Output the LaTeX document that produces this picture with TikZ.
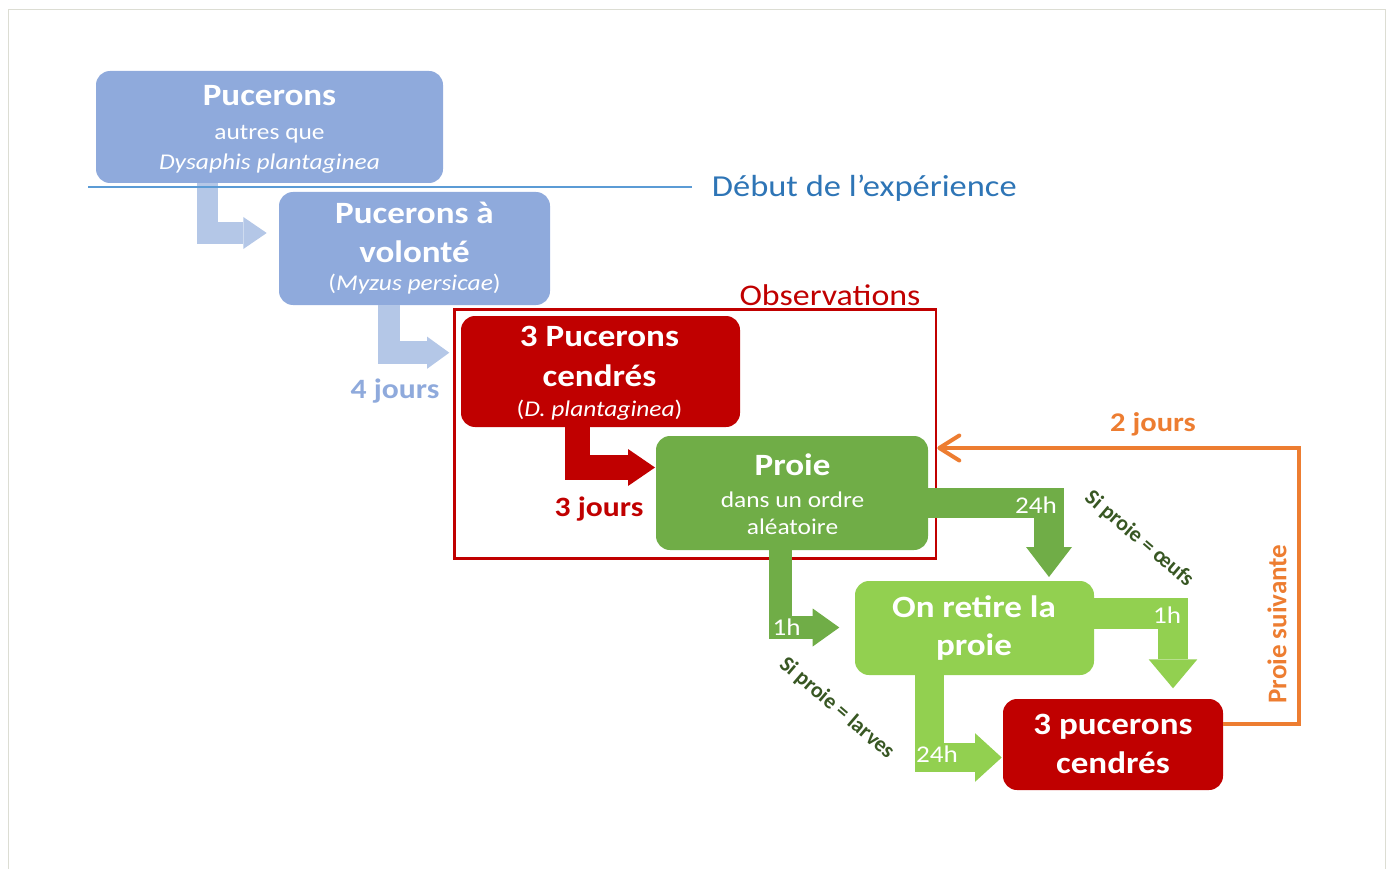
\documentclass[tikz,border=0pt]{standalone}
\usepackage{fontspec}
\setmainfont{Carlito}
\usepackage{xcolor}
\usepackage{tikz}
\usetikzlibrary{positioning, arrows.meta, calc}

\definecolor{boxblue}{HTML}{8FAADC}
\definecolor{arrowblue}{HTML}{B4C7E7}
\definecolor{lineblue}{HTML}{5B9BD5}
\definecolor{textblue}{HTML}{2E75B6}
\definecolor{obsred}{HTML}{C00000}
\definecolor{proiegreen}{HTML}{70AD47}
\definecolor{retiregreen}{HTML}{92D050}
\definecolor{labelgreen}{HTML}{385723}
\definecolor{suiteorange}{HTML}{ED7D31}
\definecolor{framegray}{HTML}{DCDDD3}

\begin{document}
\begin{tikzpicture}[
        x=1pt, y=-1pt,
        box/.style={rectangle, rounded corners=14pt, inner sep=0pt},
        txt/.style={inner sep=0pt, anchor=base, xscale=1.13, text=white},
        titre/.style={txt, font=\fontsize{31}{37}\selectfont\bfseries},
        sous/.style={txt, font=\fontsize{22.5}{27}\selectfont},
        duree/.style={txt, font=\fontsize{28}{34}\selectfont\bfseries},
        heure/.style={txt, font=\fontsize{24}{29}\selectfont},
        condition/.style={inner sep=0pt, text=labelgreen, font=\fontsize{22}{26}\selectfont\bfseries},
        fleche/.style={line join=miter, line cap=butt}
    ]
    \useasboundingbox (0,0) rectangle (1392,869);
    \draw[framegray] (8.5,869) |- (1385.5,9.5) -- (1385.5,869);

    % zone des observations
    \node[draw=obsred, line width=2.5pt, minimum width=481.7pt, minimum height=249pt, inner sep=0pt] (obs) at (695.2,433.8) {};
    \node[anchor=base, inner sep=0pt, xscale=1.13, text=obsred, font=\fontsize{30}{36}\selectfont] (obs-titre) at (830,305) {Observations};

    % boites
    \node[box, fill=boxblue, minimum width=347pt, minimum height=112pt] (pucerons) at (269.5,127) {};
    \node[box, fill=boxblue, minimum width=271pt, minimum height=113pt] (volonte) at (414.5,248.5) {};
    \node[box, fill=obsred, minimum width=279pt, minimum height=111pt] (cendres) at (600.5,371.5) {};
    \node[box, fill=proiegreen, minimum width=272pt, minimum height=114pt] (proie) at (792,493) {};
    \node[box, fill=retiregreen, minimum width=239pt, minimum height=94pt] (retire) at (974.5,628) {};
    \node[box, fill=obsred, minimum width=220pt, minimum height=91pt] (cendres2) at (1113,744.5) {};

    % pointes des fleches
    \coordinate (tip-volonte) at (266.7,233);
    \coordinate (tip-cendres) at (449.3,352.7);
    \coordinate (tip-proie) at (655,467.5);
    \coordinate (tip-oeufs) at (1049,577);
    \coordinate (tip-larves) at (839.3,627.5);
    \coordinate (tip-oeufs2) at (1173,688.3);
    \coordinate (tip-larves2) at (1001.7,757.5);
    \coordinate (retour) at (1299,448);

    \draw[fleche, arrowblue, line width=21.5pt, -{Triangle[length=23.4pt, width=32pt, line width=0pt]}]
        ([xshift=-62pt]pucerons.south) |- (tip-volonte);
    \draw[fleche, arrowblue, line width=22.5pt, -{Triangle[length=22.3pt, width=32.3pt, line width=0pt]}]
        ([xshift=-25.5pt]volonte.south) |- (tip-cendres);
    \draw[fleche, obsred, line width=25pt, -{Triangle[length=27pt, width=37pt, line width=0pt]}]
        ([xshift=-22.8pt]cendres.south) |- (tip-proie);
    \draw[fleche, proiegreen, line width=30pt, -{Triangle[length=30pt, width=46pt, line width=0pt]}]
        ([yshift=-10pt]proie.east) -| (tip-oeufs);
    \draw[fleche, proiegreen, line width=23pt, -{Triangle[length=26.6pt, width=38pt, line width=0pt]}]
        ([xshift=-11.3pt]proie.south) |- (tip-larves);
    \draw[fleche, retiregreen, line width=30.5pt, -{Triangle[length=29pt, width=48.7pt, line width=0pt]}]
        ([yshift=14.7pt]retire.east) -| (tip-oeufs2);
    \draw[fleche, retiregreen, line width=28.5pt, -{Triangle[length=26.7pt, width=48.7pt, line width=0pt]}]
        ([xshift=-45pt]retire.south) |- (tip-larves2);

    % proie suivante
    \draw[suiteorange, line width=4pt, -{Straight Barb[length=20pt, width=25pt, round]}]
        ($(cendres2.north east)!0.28!(cendres2.south east)$) -| (retour) -- (retour -| obs.east);

    % debut de l'experience
    \coordinate (debut) at (692,187.5);
    \draw[lineblue, line width=2pt] (88,187.5) -- (debut);
    \node[anchor=base west, inner sep=0pt, xscale=1.13, text=textblue, font=\fontsize{30.5}{36}\selectfont] (debut-txt) at (711.7,196.7) {Début de l’expérience};

    % textes des boites
    \node[titre] (pucerons-t) at (269.5,105.7) {Pucerons};
    \node[sous] (pucerons-s1) at (269.5,140) {autres que};
    \node[sous] (pucerons-s2) at (269.5,170) {\itshape Dysaphis plantaginea};
    \node[titre] (volonte-t1) at (414.5,223.3) {Pucerons à};
    \node[titre] (volonte-t2) at (414.5,262.7) {volonté};
    \node[sous] (volonte-s) at (414.5,290) {(\textit{Myzus persicae})};
    \node[titre] (cendres-t1) at (599.5,346.7) {3 Pucerons};
    \node[titre] (cendres-t2) at (599.5,386) {cendrés};
    \node[sous] (cendres-s) at (599.5,416.7) {(\textit{D. plantaginea})};
    \node[titre] (proie-t) at (792.5,475) {Proie};
    \node[sous] (proie-s1) at (792.5,507.3) {dans un ordre};
    \node[sous] (proie-s2) at (792.5,534.3) {aléatoire};
    \node[titre] (retire-t1) at (974,617) {On retire la};
    \node[titre] (retire-t2) at (974,655) {proie};
    \node[titre] (cendres2-t1) at (1113,734) {3 pucerons};
    \node[titre] (cendres2-t2) at (1113,773) {cendrés};

    % durees
    \node[duree, text=boxblue] (jours4) at (395,398) {4 jours};
    \node[duree, text=obsred] (jours3) at (599,516.7) {3 jours};
    \node[duree, text=suiteorange, font=\fontsize{27}{32}\selectfont\bfseries] (jours2) at (1153,431.7) {2 jours};
    \node[heure] (h-oeufs) at (1036,513) {24h};
    \node[heure] (h-larves) at (786.5,635) {1h};
    \node[heure] (h-oeufs2) at (1167,623) {1h};
    \node[heure] (h-larves2) at (937,762.7) {24h};

    % conditions
    \node[condition, rotate=-40.6] (si-larves) at (836.7,708.3) {Si proie = larves};
    \node[condition, rotate=-40.5] (si-oeufs) at (1139,539) {Si proie = œufs};
    \node[inner sep=0pt, rotate=90, text=suiteorange, font=\fontsize{27}{32}\selectfont\bfseries] (suivante) at (1277,624) {Proie suivante};
\end{tikzpicture}
\end{document}
